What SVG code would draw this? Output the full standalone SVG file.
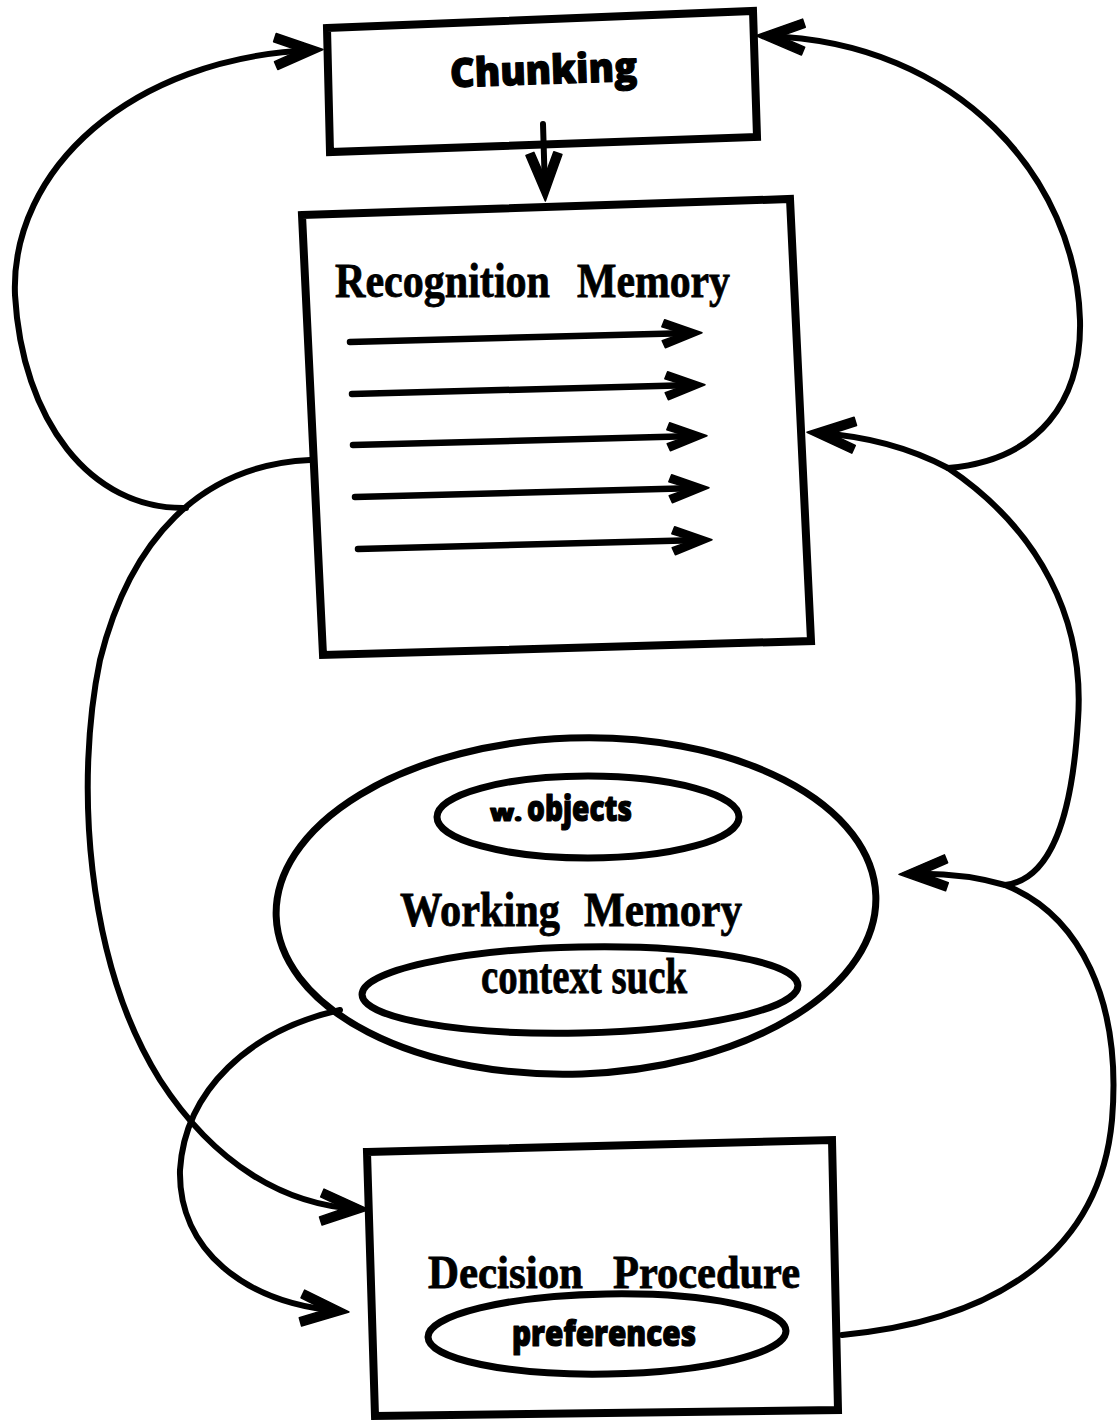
<svg xmlns="http://www.w3.org/2000/svg" width="1118" height="1422" viewBox="0 0 1118 1422">
  <style>
    .box { fill: none; stroke: #000; stroke-width: 8; stroke-linejoin: miter; }
    .oval { fill: none; stroke: #000; stroke-width: 7; }
    .wire { fill: none; stroke: #000; stroke-width: 6; stroke-linecap: round; }
    .rule { fill: none; stroke: #000; stroke-width: 6.5; stroke-linecap: round; }
    .serif { font-family: "Liberation Serif", "Times New Roman", serif; font-weight: bold; fill: #000; stroke: #000; stroke-width: 0.8; }
    .round { font-family: "Open Sans", "Noto Sans", sans-serif; font-weight: 800; fill: #000; stroke: #000; stroke-width: 1.2; stroke-linejoin: round; }
  </style>
  <defs>
    <marker id="head" viewBox="-50 -22 62 44" refX="-9" refY="0" markerWidth="62" markerHeight="44" markerUnits="userSpaceOnUse" orient="auto">
      <path d="M2,0 L-44,-18 L-47,-10 L-22,0 L-47,10 L-44,18 Z" fill="#000" stroke="#000" stroke-width="1.5" stroke-linejoin="round"/>
    </marker>
    <marker id="small" viewBox="-42 -18 52 36" refX="-8" refY="0" markerWidth="52" markerHeight="36" markerUnits="userSpaceOnUse" orient="auto">
      <path d="M2,0 L-35,-14 L-38,-7 L-17,0 L-38,7 L-35,14 Z" fill="#000" stroke="#000" stroke-width="1.5" stroke-linejoin="round"/>
    </marker>
  </defs>

  <!-- Chunking -->
  <g id="chunking">
    <path class="box" d="M327,28 L753,11 L757,137 L330,152 Z"/>
    <text class="round" x="450" y="84" font-size="40" textLength="187" lengthAdjust="spacingAndGlyphs" transform="rotate(-2 543 70)">Chunking</text>
  </g>

  <!-- Recognition Memory with its productions -->
  <g id="recognition-memory">
    <path class="box" stroke-width="9" d="M302,215 L790,199 L811,641 L323,655 Z"/>
    <text class="serif" font-size="48" y="297">
      <tspan x="335" textLength="215" lengthAdjust="spacingAndGlyphs">Recognition</tspan>
      <tspan x="577" textLength="153" lengthAdjust="spacingAndGlyphs">Memory</tspan>
    </text>
    <g marker-end="url(#small)">
      <path class="rule" d="M350,342 L692,333"/>
      <path class="rule" d="M352,394 L695,385"/>
      <path class="rule" d="M353,445 L697,436"/>
      <path class="rule" d="M355,497 L699,488"/>
      <path class="rule" d="M358,549 L702,540"/>
    </g>
  </g>

  <!-- Working Memory -->
  <g id="working-memory">
    <ellipse class="oval" cx="576" cy="906" rx="300" ry="168" transform="rotate(-2 576 906)"/>
    <ellipse class="oval" cx="588" cy="817" rx="151" ry="41"/>
    <text class="round" y="821" font-size="36">
      <tspan x="490" font-size="22" textLength="32" lengthAdjust="spacingAndGlyphs">w.</tspan>
      <tspan x="527" textLength="105" lengthAdjust="spacingAndGlyphs">objects</tspan>
    </text>
    <text class="serif" font-size="48" y="926">
      <tspan x="400" textLength="160" lengthAdjust="spacingAndGlyphs">Working</tspan>
      <tspan x="584" textLength="158" lengthAdjust="spacingAndGlyphs">Memory</tspan>
    </text>
    <ellipse class="oval" cx="580" cy="990" rx="218" ry="43" transform="rotate(-1.2 580 990)"/>
    <text class="serif" font-size="50" x="481" y="993" textLength="206" lengthAdjust="spacingAndGlyphs">context suck</text>
  </g>

  <!-- Decision Procedure -->
  <g id="decision-procedure">
    <path class="box" d="M367,1152 L832,1140 L838,1410 L375,1416 Z"/>
    <text class="serif" font-size="46" y="1288">
      <tspan x="428" textLength="155" lengthAdjust="spacingAndGlyphs">Decision</tspan>
      <tspan x="613" textLength="187" lengthAdjust="spacingAndGlyphs">Procedure</tspan>
    </text>
    <ellipse class="oval" cx="607" cy="1334" rx="179" ry="40" transform="rotate(-1 607 1334)"/>
    <text class="round" x="512" y="1346" font-size="35" textLength="184" lengthAdjust="spacingAndGlyphs">preferences</text>
  </g>

  <!-- Connectors -->
  <g id="connectors">
    <!-- chunking feeds recognition memory -->
    <path class="wire" d="M543,124 L545,190" marker-end="url(#head)"/>
    <!-- left side: recognition memory to decision, branching up to chunking -->
    <path class="wire" d="M310,460 C200,465 130,540 100,660 C75,780 85,960 160,1080 C215,1165 285,1205 358,1209" marker-end="url(#head)"/>
    <path class="wire" stroke-width="5.5" d="M186,508 C90,510 22,420 15,295 C10,170 130,58 312,50" marker-end="url(#head)"/>
    <!-- working memory to decision -->
    <path class="wire" d="M340,1010 C250,1030 185,1090 180,1170 C178,1250 245,1303 338,1311" marker-end="url(#head)"/>
    <!-- right side: decision back to working memory -->
    <path class="wire" stroke-width="6.5" d="M842,1335 C1000,1320 1100,1250 1112,1120 C1122,1000 1080,915 1005,885 C970,875 940,873 910,874" marker-end="url(#head)"/>
    <!-- right side: up to recognition memory -->
    <path class="wire" stroke-width="5.5" d="M1005,885 C1050,880 1072,820 1078,720 C1085,620 1040,530 948,468 C910,448 865,436 818,433" marker-end="url(#head)"/>
    <!-- right side: up to chunking -->
    <path class="wire" stroke-width="5.5" d="M948,468 C1040,460 1082,400 1080,320 C1076,180 960,42 767,36" marker-end="url(#head)"/>
  </g>
</svg>
